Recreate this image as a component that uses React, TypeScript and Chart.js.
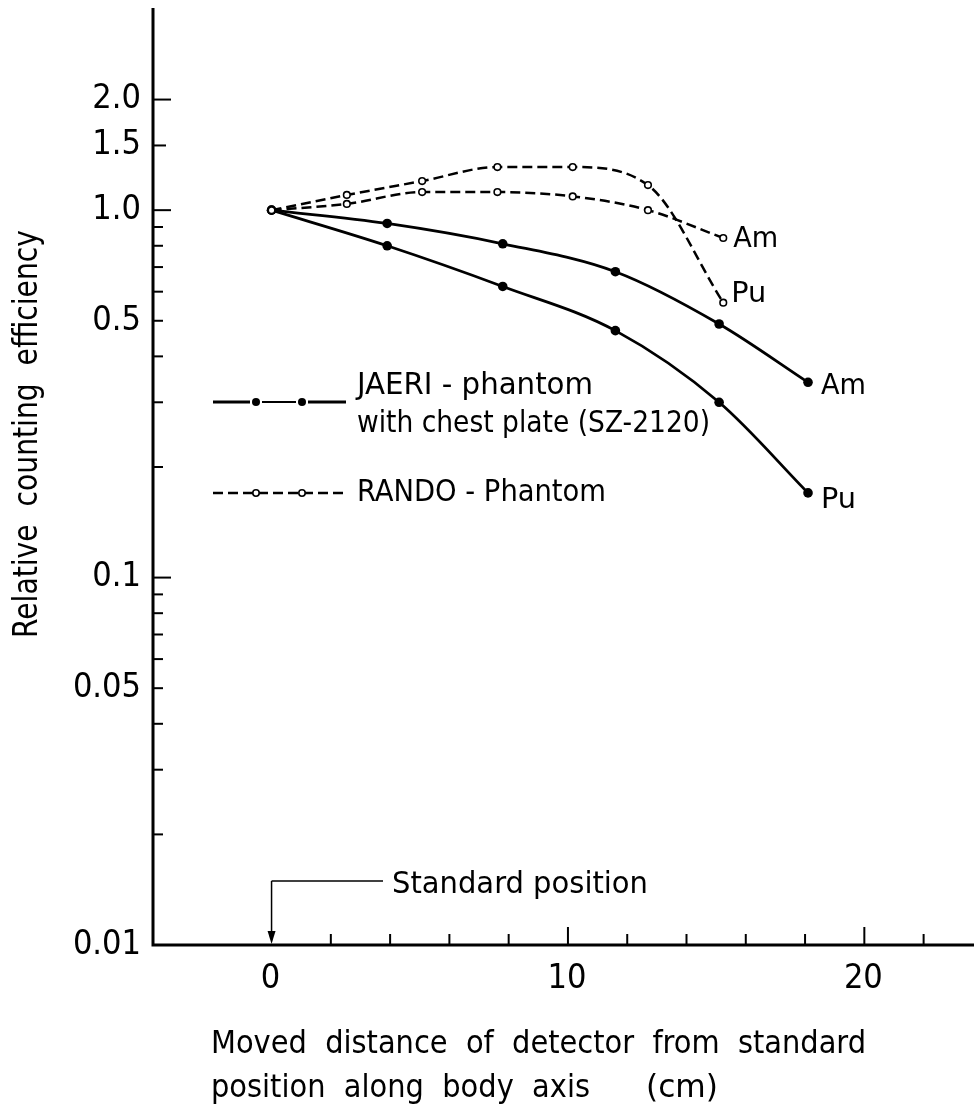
import React, { useEffect, useRef } from "react";
import { Chart, registerables } from "chart.js";

Chart.register(...registerables);

// ---- data ----
const jaeriX = [0, 3.9, 7.8, 11.6, 15.1, 18.1];
const jaeriAm = [1.0, 0.92, 0.81, 0.68, 0.49, 0.34];
const jaeriPu = [1.0, 0.8, 0.62, 0.47, 0.3, 0.17];

const randoX = [0, 2.54, 5.08, 7.62, 10.16, 12.7, 15.24];
const randoAm = [1.0, 1.04, 1.12, 1.12, 1.09, 1.0, 0.84];
const randoPu = [1.0, 1.1, 1.2, 1.31, 1.31, 1.17, 0.56];

const yTickValues = [2, 1.5, 1, 0.9, 0.8, 0.7, 0.6, 0.5, 0.4, 0.3, 0.2, 0.1, 0.09, 0.08, 0.07, 0.06, 0.05, 0.04, 0.03, 0.02, 0.01];
const yLabelValues = [2, 1.5, 1, 0.5, 0.1, 0.05, 0.01];
const yLabelTexts = ["2.0", "1.5", "1.0", "0.5", "0.1", "0.05", "0.01"];
const yLongTicks = [2, 1, 0.1, 0.01];

const xTickValues = [2, 4, 6, 8, 10, 12, 14, 16, 18, 20, 22];
const xLongTicks = [10, 20];
const xLabelValues = [0, 10, 20];

const xTitle1 = "Moved  distance  of  detector  from  standard";
const xTitle2a = "position  along  body  axis";
const xTitle2b = "(cm)";
const yTitle = "Relative  counting  efficiency";
const legendJaeri = ["JAERI - phantom", "with chest plate (SZ-2120)"];
const legendRando = "RANDO - Phantom";
const standardText = "Standard position";

const FONT = '"DejaVu Sans Condensed", "DejaVu Sans", "Liberation Sans", sans-serif';
const W = 974;
const H = 1109;

function toXY(xs: number[], ys: number[]) {
  return xs.map((x, i) => ({ x, y: ys[i] }));
}

// draw text; if width given, compress/expand horizontally to that width
function txt(
  ctx: CanvasRenderingContext2D,
  s: string,
  x: number,
  y: number,
  size: number,
  align: CanvasTextAlign = "left",
  width = 0,
  baseline: CanvasTextBaseline = "middle"
) {
  ctx.save();
  ctx.font = `${size}px ${FONT}`;
  ctx.textBaseline = baseline;
  ctx.textAlign = align;
  ctx.translate(x, y);
  if (width > 0) {
    const m = ctx.measureText(s).width;
    ctx.scale(width / m, 1);
  }
  ctx.fillText(s, 0, 0);
  ctx.restore();
}

function seg(ctx: CanvasRenderingContext2D, x1: number, y1: number, x2: number, y2: number) {
  ctx.beginPath();
  ctx.moveTo(x1, y1);
  ctx.lineTo(x2, y2);
  ctx.stroke();
}

const overlay = {
  id: "overlay",
  afterDraw(chart: any) {
    const ctx: CanvasRenderingContext2D = chart.ctx;
    const xs = chart.scales.x;
    const ys = chart.scales.y;
    const { left, top, bottom } = chart.chartArea;
    ctx.save();
    ctx.strokeStyle = "#000";
    ctx.fillStyle = "#000";
    ctx.lineCap = "butt";

    // axis lines
    ctx.lineWidth = 3;
    ctx.beginPath();
    ctx.moveTo(left, top);
    ctx.lineTo(left, bottom);
    ctx.lineTo(chart.width, bottom);
    ctx.stroke();

    // y ticks (inward)
    ctx.lineWidth = 2;
    yTickValues.forEach((v) => {
      const y = ys.getPixelForValue(v);
      const len = yLongTicks.includes(v) ? 18 : v === 1.5 ? 13 : 10;
      seg(ctx, left, y, left + len, y);
    });
    yLabelValues.forEach((v, i) => {
      txt(ctx, yLabelTexts[i], left - 12, ys.getPixelForValue(v), 34, "right");
    });

    // x ticks (inward)
    xTickValues.forEach((v) => {
      const x = xs.getPixelForValue(v);
      const len = xLongTicks.includes(v) ? 18 : 11;
      seg(ctx, x, bottom, x, bottom - len);
    });
    xLabelValues.forEach((v) => {
      txt(ctx, String(v), xs.getPixelForValue(v) - 1, 988, 34, "center", 0, "alphabetic");
    });

    // axis titles
    txt(ctx, xTitle1, 211, 1053, 32, "left", 655, "alphabetic");
    txt(ctx, xTitle2a, 211, 1097, 32, "left", 379, "alphabetic");
    txt(ctx, xTitle2b, 646, 1097, 32, "left", 72, "alphabetic");
    ctx.save();
    ctx.translate(37, 434);
    ctx.rotate(-Math.PI / 2);
    txt(ctx, yTitle, 0, 0, 33, "center", 408, "alphabetic");
    ctx.restore();

    // standard position annotation
    const x0 = xs.getPixelForValue(0);
    const ya = 881;
    ctx.lineWidth = 1.5;
    seg(ctx, x0, ya, 383, ya);
    seg(ctx, x0, ya, x0, bottom - 8);
    ctx.beginPath();
    ctx.moveTo(x0 - 4, bottom - 14);
    ctx.lineTo(x0 + 4, bottom - 14);
    ctx.lineTo(x0, bottom - 1);
    ctx.closePath();
    ctx.fill();
    txt(ctx, standardText, 392, 893, 31, "left", 256, "alphabetic");

    // curve end labels
    const lastR = randoX.length - 1;
    const lastJ = jaeriX.length - 1;
    const rx = xs.getPixelForValue(randoX[lastR]);
    const jx = xs.getPixelForValue(jaeriX[lastJ]);
    txt(ctx, "Am", rx + 10, ys.getPixelForValue(randoAm[lastR]) + 1, 29, "left", 45);
    txt(ctx, "Pu", rx + 8, ys.getPixelForValue(randoPu[lastR]) - 8, 29, "left", 35);
    txt(ctx, "Am", jx + 13, ys.getPixelForValue(jaeriAm[lastJ]) + 4, 29, "left", 45);
    txt(ctx, "Pu", jx + 13, ys.getPixelForValue(jaeriPu[lastJ]) + 8, 29, "left", 35);

    // legend: JAERI
    const ly1 = 402;
    ctx.lineWidth = 2.8;
    seg(ctx, 213, ly1, 250, ly1);
    ctx.lineWidth = 2;
    seg(ctx, 262, ly1, 296, ly1);
    ctx.lineWidth = 2.8;
    seg(ctx, 308, ly1, 346, ly1);
    [256, 302].forEach((px) => {
      ctx.beginPath();
      ctx.arc(px, ly1, 4, 0, Math.PI * 2);
      ctx.fill();
    });
    txt(ctx, legendJaeri[0], 357, 386, 30, "left", 236);
    txt(ctx, legendJaeri[1], 357, 424, 30, "left", 353);

    // legend: RANDO
    const ly2 = 493;
    ctx.lineWidth = 2.4;
    ctx.setLineDash([10, 5]);
    seg(ctx, 213, ly2, 346, ly2);
    ctx.setLineDash([]);
    [256, 302].forEach((px) => {
      ctx.beginPath();
      ctx.arc(px, ly2, 3.2, 0, Math.PI * 2);
      ctx.fillStyle = "#fff";
      ctx.fill();
      ctx.lineWidth = 1.6;
      ctx.stroke();
    });
    ctx.fillStyle = "#000";
    txt(ctx, legendRando, 357, ly2, 30, "left", 249);

    ctx.restore();
  },
};

export default function App() {
  const ref = useRef<HTMLCanvasElement>(null);

  useEffect(() => {
    const canvas = ref.current;
    if (!canvas) return;
    const solid = (label: string, xs: number[], ys: number[]) => ({
      label,
      data: toXY(xs, ys),
      borderColor: "#000",
      backgroundColor: "#000",
      borderWidth: 2.8,
      pointRadius: 4.8,
      pointBorderWidth: 0,
      pointBackgroundColor: "#000",
      cubicInterpolationMode: "monotone" as const,
      fill: false,
      clip: false as const,
    });
    const dashed = (label: string, xs: number[], ys: number[]) => ({
      label,
      data: toXY(xs, ys),
      borderColor: "#000",
      backgroundColor: "#fff",
      borderWidth: 2.5,
      borderDash: [10, 5],
      pointRadius: 3.3,
      pointBorderWidth: 1.6,
      pointBorderColor: "#000",
      pointBackgroundColor: "#fff",
      cubicInterpolationMode: "monotone" as const,
      fill: false,
      clip: false as const,
    });
    const chart = new Chart(canvas, {
      type: "line",
      data: {
        datasets: [
          dashed("RANDO Am", randoX, randoAm),
          dashed("RANDO Pu", randoX, randoPu),
          solid("JAERI Am", jaeriX, jaeriAm),
          solid("JAERI Pu", jaeriX, jaeriPu),
        ],
      },
      options: {
        animation: false,
        responsive: false,
        maintainAspectRatio: false,
        devicePixelRatio: 1,
        layout: { autoPadding: false, padding: { left: 153, top: 8, right: 0, bottom: 164 } },
        plugins: { legend: { display: false }, tooltip: { enabled: false } },
        scales: {
          x: { type: "linear", min: -4, max: 23.7, display: false },
          y: { type: "logarithmic", min: 0.01, max: 3.55, display: false },
        },
      },
      plugins: [overlay],
    });
    return () => chart.destroy();
  }, []);

  return (
    <div style={{ position: "fixed", left: 0, top: 0, width: W, height: H, background: "#fff" }}>
      <canvas ref={ref} width={W} height={H} style={{ display: "block", width: W, height: H }} />
    </div>
  );
}
